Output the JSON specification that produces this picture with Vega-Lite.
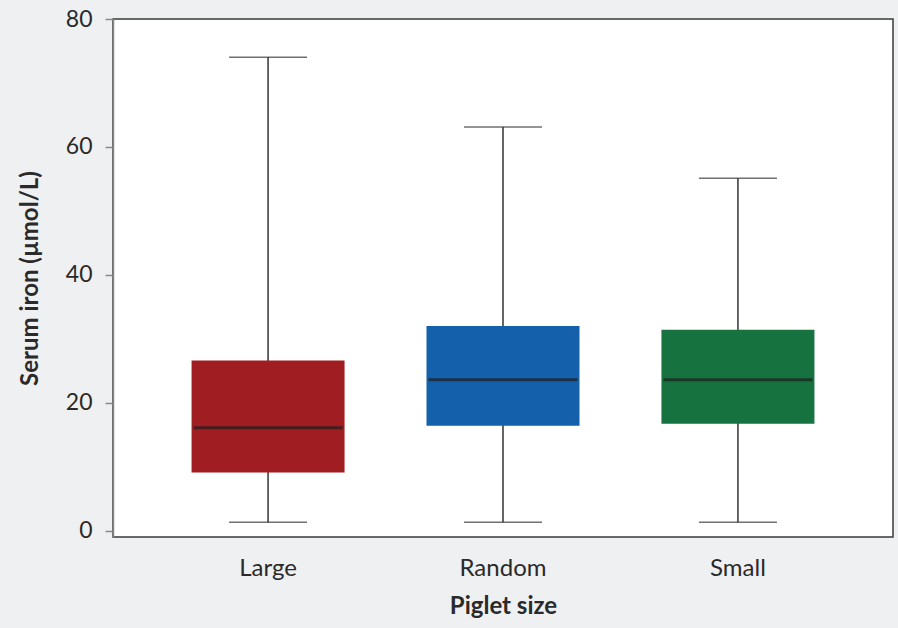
{
  "$schema": "https://vega.github.io/schema/vega-lite/v6.json",
  "autosize": {"type": "none"},
  "width": 780,
  "height": 518,
  "padding": {"left": 113, "top": 19, "right": 5, "bottom": 91},
  "background": "#eff0f2",
  "config": {
    "font": "Lato",
    "view": {"fill": "white", "stroke": "#3a3a3a", "strokeWidth": 1.5},
    "axis": {"labelFont": "Lato", "titleFont": "Lato", "labelColor": "#2a2a2a", "titleColor": "#2a2a2a"}
  },
  "data": {
    "values": [
      {"size": "Large", "lower": 1.3, "q1": 9.1, "median": 16.1, "q3": 26.6, "upper": 74.0},
      {"size": "Random", "lower": 1.3, "q1": 16.4, "median": 23.6, "q3": 32.0, "upper": 63.1},
      {"size": "Small", "lower": 1.3, "q1": 16.7, "median": 23.6, "q3": 31.4, "upper": 55.1}
    ]
  },
  "encoding": {
    "x": {
      "field": "size",
      "type": "nominal",
      "scale": {"type": "band", "paddingInner": 0, "paddingOuter": 0.16},
      "axis": {
        "title": "Piglet size",
        "titleFontSize": 24,
        "titleFontWeight": "bold",
        "titlePadding": 14,
        "labelFontSize": 24,
        "labelAngle": 0,
        "labelPadding": 19,
        "ticks": false,
        "domain": false
      }
    }
  },
  "layer": [
    {
      "mark": {"type": "rule", "color": "#333333", "strokeWidth": 1.5},
      "encoding": {
        "y": {
          "field": "lower",
          "type": "quantitative",
          "scale": {"domain": [-1, 80], "nice": false, "zero": false},
          "axis": {
            "title": "Serum iron (µmol/L)",
            "titleFontSize": 24,
            "titleFontWeight": "bold",
            "titleAngle": -90,
            "titleBaseline": "middle",
            "titleX": -83,
            "titleY": 259,
            "values": [0, 20, 40, 60, 80],
            "labelFontSize": 23,
            "labelPadding": 13,
            "tickSize": 8,
            "tickColor": "#888888",
            "tickWidth": 1.5,
            "domainColor": "#888888",
            "domainWidth": 1.5,
            "grid": false
          }
        },
        "y2": {"field": "upper"}
      }
    },
    {
      "mark": {"type": "tick", "color": "#333333", "thickness": 1.5, "size": 78},
      "encoding": {"y": {"field": "upper", "type": "quantitative"}}
    },
    {
      "mark": {"type": "tick", "color": "#333333", "thickness": 1.5, "size": 78},
      "encoding": {"y": {"field": "lower", "type": "quantitative"}}
    },
    {
      "mark": {"type": "bar", "size": 153},
      "encoding": {
        "y": {"field": "q1", "type": "quantitative"},
        "y2": {"field": "q3"},
        "color": {
          "field": "size",
          "type": "nominal",
          "scale": {"domain": ["Large", "Random", "Small"], "range": ["#a01d22", "#1460aa", "#167340"]},
          "legend": null
        }
      }
    },
    {
      "mark": {"type": "tick", "color": "#1e1e1e", "thickness": 3, "size": 149},
      "encoding": {"y": {"field": "median", "type": "quantitative"}}
    }
  ]
}
